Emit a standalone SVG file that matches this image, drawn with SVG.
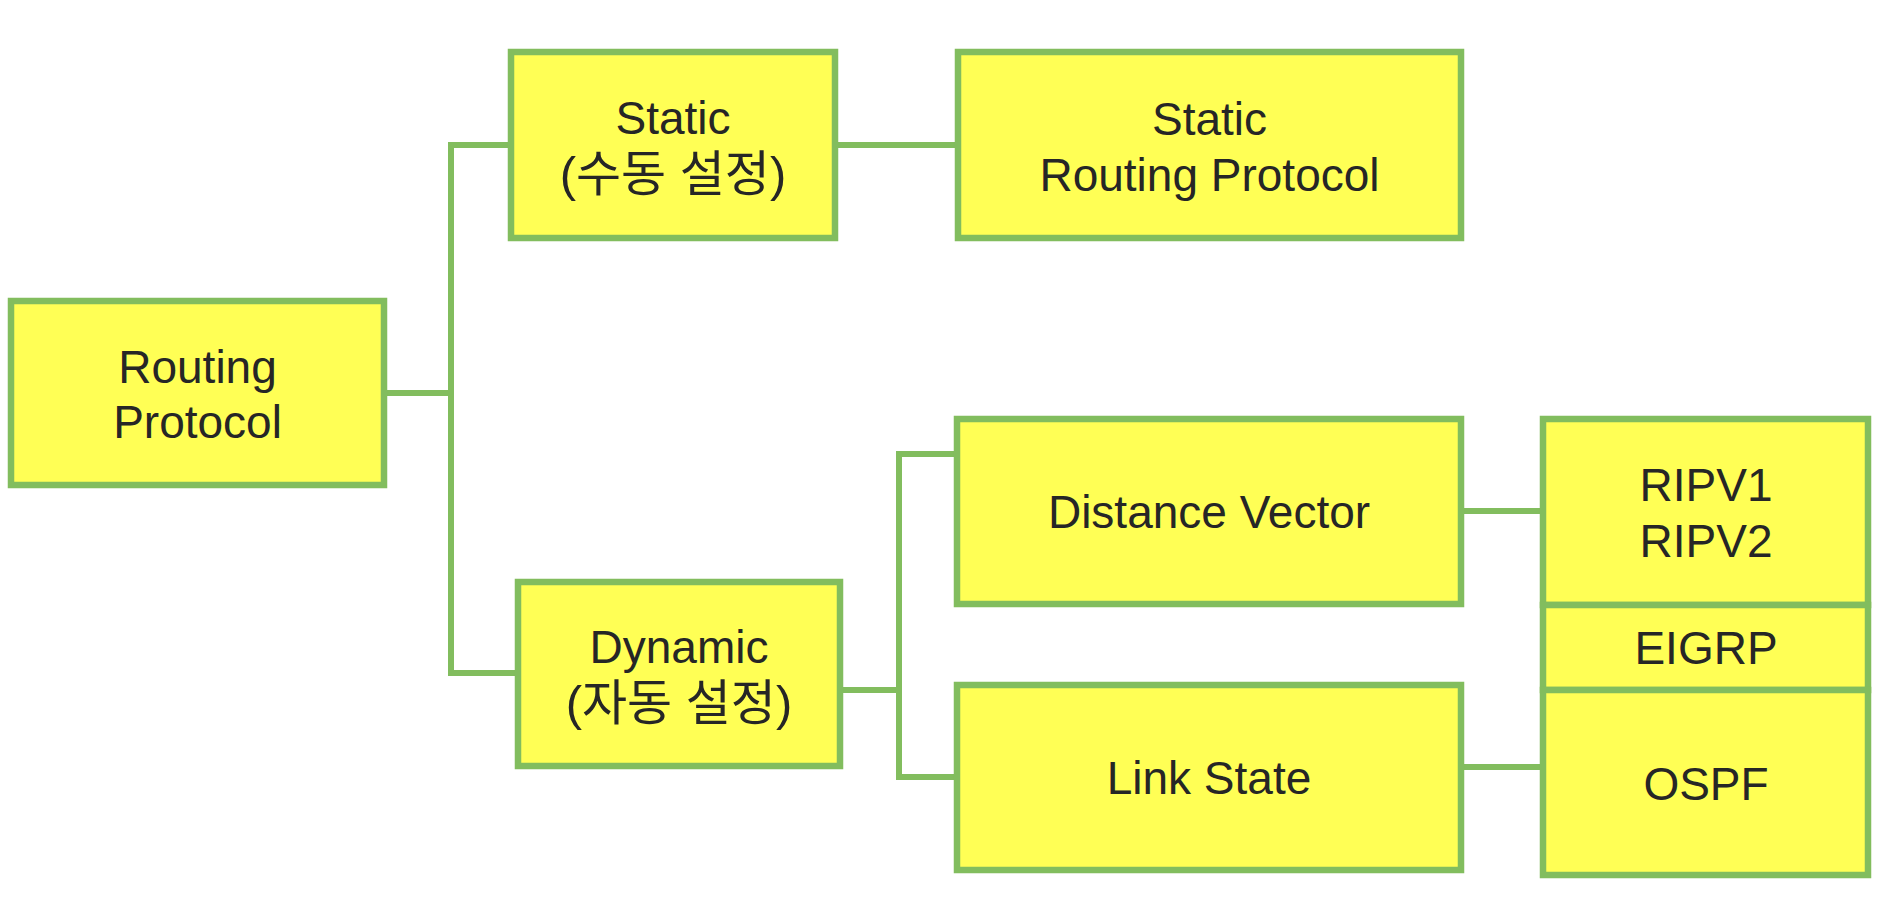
<svg xmlns="http://www.w3.org/2000/svg" width="1878" height="912" viewBox="0 0 1878 912">
<style>
.box{fill:#ffff55;stroke:#82bd5e;stroke-width:6.5}
.lbl{font-family:"Liberation Sans","Noto Sans CJK KR",Arial,sans-serif;font-size:46px;fill:#262626;text-anchor:middle}
.ko{font-size:49px}
.conn{fill:none;stroke:#82bd5e;stroke-width:6;stroke-linejoin:miter}
</style>
<rect width="1878" height="912" fill="#ffffff"/>
<g id="connectors">
<path class="conn" d="M387 393H451"/>
<path class="conn" d="M508 145H451V673H515"/>
<path class="conn" d="M838 145H955"/>
<path class="conn" d="M843 690H899"/>
<path class="conn" d="M954 454H899V777H954"/>
<path class="conn" d="M1464 511H1540"/>
<path class="conn" d="M1464 767H1540"/>
</g>
<g id="routing">
<rect class="box" x="11" y="301" width="373" height="184"/>
<text class="lbl" x="197.5" y="383">Routing</text>
<text class="lbl" x="197.5" y="438">Protocol</text>
</g>
<g id="static">
<rect class="box" x="511" y="52" width="324" height="186"/>
<text class="lbl" x="673" y="134">Static</text>
<text class="lbl ko" x="673" y="191">(수동 설정)</text>
</g>
<g id="static-rp">
<rect class="box" x="958" y="52" width="503" height="186"/>
<text class="lbl" x="1209.5" y="135">Static</text>
<text class="lbl" x="1209.5" y="191">Routing Protocol</text>
</g>
<g id="dynamic">
<rect class="box" x="518" y="582" width="322" height="184"/>
<text class="lbl" x="679" y="663">Dynamic</text>
<text class="lbl ko" x="679" y="720">(자동 설정)</text>
</g>
<g id="distance-vector">
<rect class="box" x="957" y="419" width="504" height="185"/>
<text class="lbl" x="1209" y="528">Distance Vector</text>
</g>
<g id="link-state">
<rect class="box" x="957" y="685" width="504" height="185"/>
<text class="lbl" x="1209" y="794">Link State</text>
</g>
<g id="rip">
<rect class="box" x="1543" y="419" width="325" height="186"/>
<text class="lbl" x="1706" y="501">RIPV1</text>
<text class="lbl" x="1706" y="557">RIPV2</text>
</g>
<g id="eigrp">
<rect class="box" x="1543" y="605" width="325" height="85"/>
<text class="lbl" x="1706" y="664">EIGRP</text>
</g>
<g id="ospf">
<rect class="box" x="1543" y="690" width="325" height="185"/>
<text class="lbl" x="1706" y="800">OSPF</text>
</g>
</svg>
